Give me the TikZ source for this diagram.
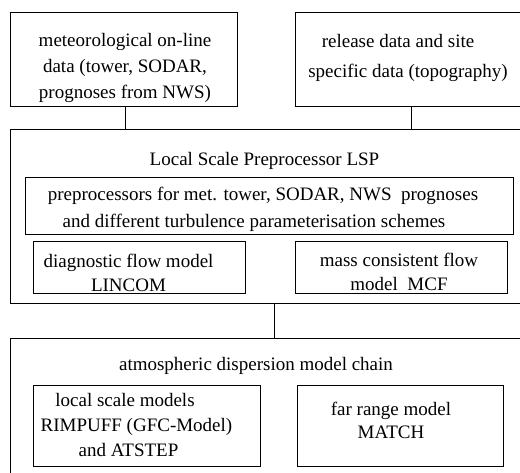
\documentclass[tikz,border=0pt]{standalone}
\usepackage{fontspec}
\setmainfont{Liberation Serif}
\begin{document}
\begin{tikzpicture}[x=1pt,y=-1pt,
  lbl/.style={font=\fontsize{19}{#1}\selectfont, align=center, inner sep=0pt, anchor=north},
  box/.style={draw, line width=1pt, inner sep=0pt, rectangle},
  conn/.style={draw, line width=1pt}]
\useasboundingbox (0,0) rectangle (520,473);
\clip (0,0) rectangle (520,473);
% boxes
\node[box, minimum width=226.5pt, minimum height=94pt] (met) at (123.75,60) {};
\node[box, minimum width=227pt, minimum height=94pt] (rel) at (408.5,60) {};
\node[box, minimum width=511.5pt, minimum height=174pt] (lsp) at (266.25,217) {};
\node[box, minimum width=487.8pt, minimum height=57pt] (pre) at (269.4,206.5) {};
\node[box, minimum width=212pt, minimum height=52pt] (diag) at (139,268) {};
\node[box, minimum width=212pt, minimum height=51.5pt] (mcf) at (401,267.75) {};
\node[box, minimum width=511.5pt, minimum height=151pt] (adm) at (266.25,414.5) {};
\node[box, minimum width=226.7pt, minimum height=81pt] (loc) at (146.65,426.2) {};
\node[box, minimum width=206pt, minimum height=81pt] (far) at (400,426.2) {};
% texts
\node[lbl=26] (mettxt) at (125,28.3)
  {\strut meteorological on-line\\data (tower, SODAR,\\prognoses from NWS)};
\node[lbl=30] (reltxt) at (408,26)
  {\strut\hspace*{-20pt}release data and site\\specific data (topography)};
\node[lbl=26] (lsptxt) at (264.5,146.8) {\strut Local Scale Preprocessor LSP};
\node[lbl=27] (pretxt) at (263,181.1)
  {\strut preprocessors for met. tower, SODAR, NWS\ \ prognoses\\\hspace*{-18pt}and different turbulence parameterisation schemes};
\node[lbl=24] (diagtxt) at (128.5,250.2) {\strut diagnostic flow model\\LINCOM};
\node[lbl=23.5] (mcftxt) at (399,250.25) {\strut mass consistent flow\\model\ \ MCF};
\node[lbl=26] (admtxt) at (256,351.8) {\strut atmospheric dispersion model chain};
\node[lbl=25] (loctxt) at (130,389.2)
  {\strut\hspace*{-10pt}local scale models\\\hspace*{13pt}RIMPUFF (GFC-Model)\\\hspace*{-3pt}and ATSTEP};
\node[lbl=23.3] (fartxt) at (391,398.7) {\strut far range model\\MATCH};
% connectors
\coordinate (c1) at (125.7,0);
\coordinate (c2) at (411.7,0);
\coordinate (c3) at (274,0);
\draw[conn] (c1 |- met.south) -- (c1 |- lsp.north);
\draw[conn] (c2 |- rel.south) -- (c2 |- lsp.north);
\draw[conn] (c3 |- lsp.south) -- (c3 |- adm.north);
\end{tikzpicture}
\end{document}
